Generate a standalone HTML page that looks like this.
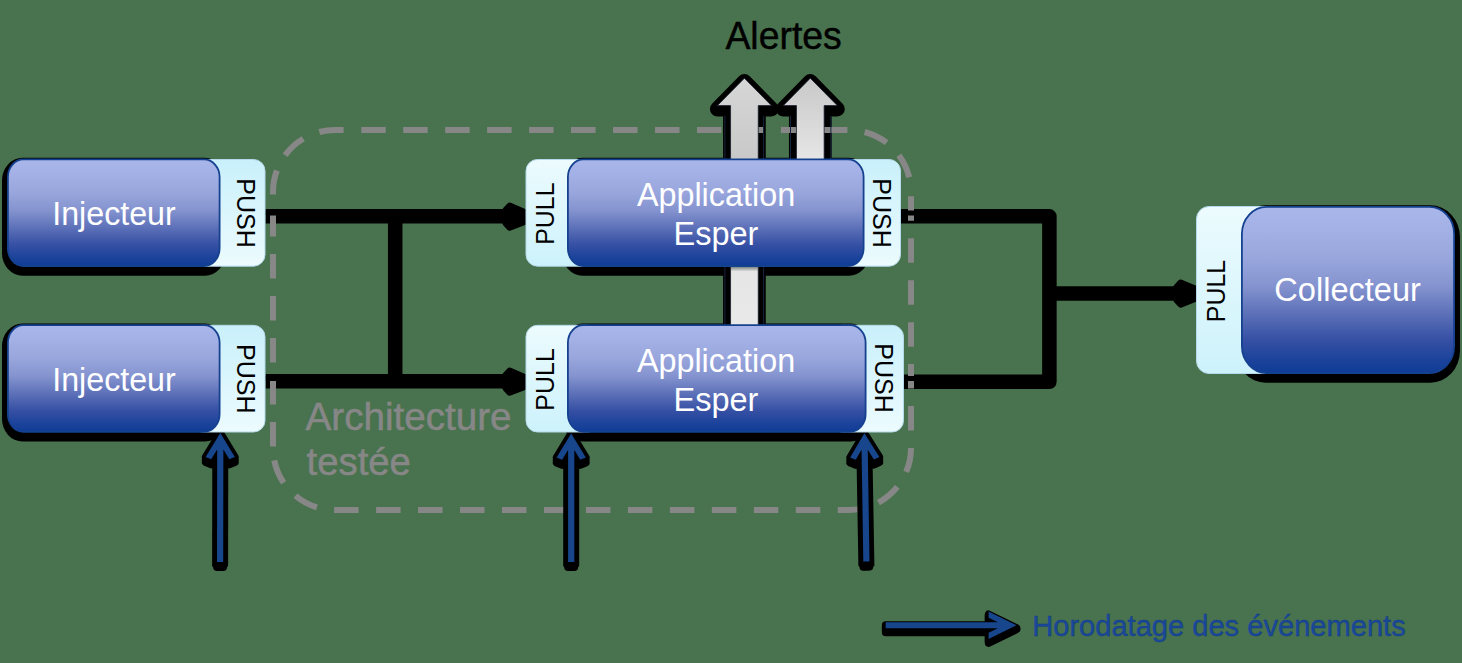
<!DOCTYPE html>
<html><head><meta charset="utf-8"><title>Architecture</title>
<style>
html,body{margin:0;padding:0;background:#49734e;}
body{width:1462px;height:663px;overflow:hidden;font-family:"Liberation Sans", sans-serif;}
svg{display:block}
</style></head>
<body>
<svg width="1462" height="663" viewBox="0 0 1462 663">
<defs>
<linearGradient id="gBlue" x1="0" y1="0" x2="0" y2="1">
<stop offset="0" stop-color="#a9b6ea"/>
<stop offset="0.13" stop-color="#a4b1e6"/>
<stop offset="0.31" stop-color="#99a6dd"/>
<stop offset="0.48" stop-color="#8493cf"/>
<stop offset="0.645" stop-color="#5c70b8"/>
<stop offset="0.80" stop-color="#3650a4"/>
<stop offset="0.92" stop-color="#1c439b"/>
<stop offset="1" stop-color="#0f3c97"/>
</linearGradient>
<linearGradient id="lgA" x1="0" y1="0" x2="0" y2="1">
<stop offset="0" stop-color="#c9f0fb"/>
<stop offset="1" stop-color="#ecfbfe"/>
</linearGradient>
<linearGradient id="lgB" x1="0" y1="0" x2="0" y2="1">
<stop offset="0" stop-color="#ecfbfe"/>
<stop offset="1" stop-color="#cdf2fb"/>
</linearGradient>
<linearGradient id="lgE" x1="0" y1="0" x2="1" y2="0">
<stop offset="0" stop-color="#d8f5fc"/>
<stop offset="1" stop-color="#d8f5fc"/>
</linearGradient>
<linearGradient id="gGray1" x1="0" y1="0" x2="0" y2="1">
<stop offset="0" stop-color="#d6d6d6"/>
<stop offset="0.32" stop-color="#c9c9c9"/>
<stop offset="0.76" stop-color="#e5e5e5"/>
<stop offset="1" stop-color="#e9e9e9"/>
</linearGradient>
<linearGradient id="gGray2" x1="0" y1="0" x2="0" y2="1">
<stop offset="0" stop-color="#c8c8c8"/>
<stop offset="1" stop-color="#e6e6e6"/>
</linearGradient>
</defs>
<rect x="0" y="0" width="1462" height="663" fill="#49734e"/>
<g id="shadows" fill="#000" stroke="#000">
<rect x="2.00" y="157.80" width="223.50" height="117.90" rx="20.50" ry="22.50" stroke="none"/>
<rect x="2.00" y="323.60" width="223.50" height="117.90" rx="20.50" ry="22.50" stroke="none"/>
<rect x="562.00" y="157.80" width="307.50" height="117.90" rx="20.50" ry="22.50" stroke="none"/>
<rect x="562.00" y="323.60" width="309.50" height="117.90" rx="20.50" ry="22.50" stroke="none"/>
<rect x="1236.00" y="205.30" width="224.00" height="177.40" rx="29.50" ry="32.00" stroke="none"/>
<polygon points="744.40,81.50 771.40,108.90 758.25,108.90 758.25,329.30 730.55,329.30 730.55,108.90 717.40,108.90" stroke-width="15" stroke-linejoin="round"/>
<polygon points="810.30,81.50 837.30,108.90 824.15,108.90 824.15,163.30 796.45,163.30 796.45,108.90 783.30,108.90" stroke-width="15" stroke-linejoin="round"/>
<g fill="none" stroke-width="14.5" stroke-linejoin="round" stroke-linecap="butt">
<path d="M265.5,216.3 H505"/>
<path d="M265.5,381.3 H505"/>
<path d="M395.2,216.3 V381.3"/>
<path d="M901,216.3 H1049.4 V381.8 H904"/>
<path d="M1049.4,293.6 H1176"/>
</g>
</g>
<g fill="none" stroke="#878787" stroke-width="6" stroke-dasharray="24.5 17.47">
<path d="M352,130.0 H335.0 A62,62 0 0 0 273.0,192.0 V448.0" stroke-dashoffset="-8.4"/>
<path d="M273.0,448.0 A62,62 0 0 0 335.0,510.0 H849.0 A62,62 0 0 0 911.0,448.0 V192.0" stroke-dashoffset="-12.4"/>
<path d="M911.0,192.0 A62,62 0 0 0 849.0,130.0 H352" stroke-dashoffset="-14.9"/>
</g>
<polygon points="744.40,78.20 771.40,105.60 758.25,105.60 758.25,326.00 730.55,326.00 730.55,105.60 717.40,105.60" fill="url(#gGray1)" stroke="#1a2030" stroke-width="0.8" stroke-linejoin="miter"/>
<polygon points="810.30,78.20 837.30,105.60 824.15,105.60 824.15,160.00 796.45,160.00 796.45,105.60 783.30,105.60" fill="url(#gGray2)" stroke="#1a2030" stroke-width="0.8" stroke-linejoin="miter"/>
<g stroke="#16233f" stroke-width="1" fill="none">
<path d="M724.9,116 V324 M763.6,116 V324 M790.5,116 V159 M830.9,116 V159"/>
</g>
<linearGradient id="gSh" x1="0" y1="0" x2="0" y2="1"><stop offset="0" stop-color="#5a6a66" stop-opacity="0.75"/><stop offset="1" stop-color="#5a6a66" stop-opacity="0"/></linearGradient>
<rect x="731" y="267" width="27" height="4.5" fill="url(#gSh)"/>
<g fill="none" stroke="#000" stroke-width="5" stroke-linejoin="round">
<path d="M265.5,213 H505"/>
<path d="M265.5,378.5 H505"/>
<path d="M395.1,213 V378.5"/>
<path d="M901,213 H1049.4 V378.5 H904"/>
<path d="M1049.4,290 H1176"/>
</g>
<polygon points="505.60,210.20 509.60,205.80 524.00,211.90 524.00,221.90 509.60,227.50 505.60,223.10" fill="#000" stroke="#000" stroke-width="6.4" stroke-linejoin="round"/>
<polygon points="505.60,375.20 509.60,370.80 524.00,376.90 524.00,386.90 509.60,392.50 505.60,388.10" fill="#000" stroke="#000" stroke-width="6.4" stroke-linejoin="round"/>
<polygon points="1176.60,287.10 1180.60,282.70 1195.00,288.80 1195.00,298.80 1180.60,304.40 1176.60,300.00" fill="#000" stroke="#000" stroke-width="6.4" stroke-linejoin="round"/>
<polygon points="220.30,433.00 205.66,456.98 211.17,459.29 217.17,449.44 217.00,562.00 223.20,562.00 223.37,449.45 229.35,459.31 234.86,457.02" fill="#000" stroke="#000" stroke-width="7.6" stroke-linejoin="round"/>
<polygon points="220.30,435.60 205.66,459.58 211.17,461.89 217.17,452.04 217.00,564.60 223.20,564.60 223.37,452.05 229.35,461.91 234.86,459.62" fill="#000" stroke="#000" stroke-width="7.6" stroke-linejoin="round"/>
<polygon points="220.30,438.30 205.66,462.28 211.17,464.59 217.17,454.74 217.00,567.30 223.20,567.30 223.37,454.75 229.35,464.61 234.86,462.32" fill="#000" stroke="#000" stroke-width="7.6" stroke-linejoin="round"/>
<polygon points="212.28,463.0 212.10,566.0 216.60,570.7 223.60,570.7 228.10,566.0 228.28,463.0" fill="#000"/>
<polygon points="220.30,433.00 205.66,456.98 211.17,459.29 217.17,449.44 217.00,562.00 223.20,562.00 223.37,449.45 229.35,459.31 234.86,457.02" fill="#17468d"/>
<polygon points="571.20,433.50 556.60,457.50 562.11,459.80 568.10,449.95 568.10,562.00 574.30,562.00 574.30,449.95 580.29,459.80 585.80,457.50" fill="#000" stroke="#000" stroke-width="7.6" stroke-linejoin="round"/>
<polygon points="571.20,436.10 556.60,460.10 562.11,462.40 568.10,452.55 568.10,564.60 574.30,564.60 574.30,452.55 580.29,462.40 585.80,460.10" fill="#000" stroke="#000" stroke-width="7.6" stroke-linejoin="round"/>
<polygon points="571.20,438.80 556.60,462.80 562.11,465.10 568.10,455.25 568.10,567.30 574.30,567.30 574.30,455.25 580.29,465.10 585.80,462.80" fill="#000" stroke="#000" stroke-width="7.6" stroke-linejoin="round"/>
<polygon points="563.20,463.5 563.20,566.0 567.70,570.7 574.70,570.7 579.20,566.0 579.20,463.5" fill="#000"/>
<polygon points="571.20,433.50 556.60,457.50 562.11,459.80 568.10,449.95 568.10,562.00 574.30,562.00 574.30,449.95 580.29,459.80 585.80,457.50" fill="#17468d"/>
<polygon points="864.40,433.30 850.18,457.52 855.72,459.74 861.56,449.79 863.30,561.55 869.50,561.45 867.76,449.70 873.90,459.45 879.37,457.07" fill="#000" stroke="#000" stroke-width="7.6" stroke-linejoin="round"/>
<polygon points="864.40,435.90 850.18,460.12 855.72,462.34 861.56,452.39 863.30,564.15 869.50,564.05 867.76,452.30 873.90,462.05 879.37,459.67" fill="#000" stroke="#000" stroke-width="7.6" stroke-linejoin="round"/>
<polygon points="864.40,438.60 850.18,462.82 855.72,465.04 861.56,455.09 863.30,566.85 869.50,566.75 867.76,455.00 873.90,464.75 879.37,462.37" fill="#000" stroke="#000" stroke-width="7.6" stroke-linejoin="round"/>
<polygon points="856.60,463.3 858.40,565.5 862.90,570.2 869.90,570.2 874.40,565.5 872.60,463.3" fill="#000"/>
<polygon points="864.40,433.30 850.18,457.52 855.72,459.74 861.56,449.79 863.30,561.55 869.50,561.45 867.76,449.70 873.90,459.45 879.37,457.07" fill="#17468d"/>
<polygon points="1016.50,628.00 988.60,614.30 988.60,620.43 997.81,624.95 885.70,624.95 885.70,631.05 997.81,631.05 988.60,635.57 988.60,641.70" fill="#000" stroke="#000" stroke-width="7.6" stroke-linejoin="round"/>
<polygon points="1016.50,629.40 988.60,615.70 988.60,621.83 997.81,626.35 885.70,626.35 885.70,632.45 997.81,632.45 988.60,636.97 988.60,643.10" fill="#000" stroke="#000" stroke-width="7.6" stroke-linejoin="round"/>
<polygon points="1016.50,625.20 988.60,611.50 988.60,617.63 997.81,622.15 885.70,622.15 885.70,628.25 997.81,628.25 988.60,632.77 988.60,638.90" fill="#17468d"/>
<rect x="190.50" y="159.50" width="74.50" height="106.70" rx="11.50" ry="11.50" fill="url(#lgA)" stroke="#b4d9ea" stroke-width="1"/>
<rect x="190.50" y="325.30" width="74.50" height="106.70" rx="11.50" ry="11.50" fill="url(#lgA)" stroke="#b4d9ea" stroke-width="1"/>
<rect x="526.00" y="159.50" width="73.50" height="106.70" rx="11.50" ry="11.50" fill="url(#lgB)" stroke="#b4d9ea" stroke-width="1"/>
<rect x="526.00" y="325.30" width="73.50" height="106.70" rx="11.50" ry="11.50" fill="url(#lgB)" stroke="#b4d9ea" stroke-width="1"/>
<rect x="830.50" y="159.50" width="70.00" height="106.70" rx="11.50" ry="11.50" fill="url(#lgA)" stroke="#b4d9ea" stroke-width="1"/>
<rect x="830.50" y="325.30" width="73.00" height="106.70" rx="11.50" ry="11.50" fill="url(#lgA)" stroke="#b4d9ea" stroke-width="1"/>
<rect x="1196.50" y="206.50" width="93.00" height="167.00" rx="12.50" ry="12.50" fill="url(#lgB)" stroke="#b4d9ea" stroke-width="1"/>
<rect x="7.90" y="159.40" width="211.70" height="106.70" rx="15.60" ry="17.60" fill="url(#gBlue)" stroke="#15418f" stroke-width="1.8"/>
<rect x="7.90" y="325.20" width="211.70" height="106.70" rx="15.60" ry="17.60" fill="url(#gBlue)" stroke="#15418f" stroke-width="1.8"/>
<rect x="567.90" y="159.40" width="295.70" height="106.70" rx="15.60" ry="17.60" fill="url(#gBlue)" stroke="#15418f" stroke-width="1.8"/>
<rect x="567.90" y="325.20" width="297.70" height="106.70" rx="15.60" ry="17.60" fill="url(#gBlue)" stroke="#15418f" stroke-width="1.8"/>
<rect x="1241.90" y="206.90" width="212.20" height="166.20" rx="24.60" ry="27.10" fill="url(#gBlue)" stroke="#15418f" stroke-width="1.8"/>
<g font-family='"Liberation Sans", sans-serif'>
<text transform="translate(783.6,48.8) scale(1,1.04)" x="0" y="0" font-size="37.4" fill="#000" text-anchor="middle" stroke="#000" stroke-width="0.45">Alertes</text>
<text transform="translate(114.0,224.8) scale(1,1.04)" x="0" y="0" font-size="32.2" fill="#fff" text-anchor="middle" >Injecteur</text>
<text transform="translate(114.0,390.6) scale(1,1.04)" x="0" y="0" font-size="32.2" fill="#fff" text-anchor="middle" >Injecteur</text>
<text transform="translate(716.0,205.9) scale(1,1.04)" x="0" y="0" font-size="32.35" fill="#fff" text-anchor="middle" >Application</text>
<text transform="translate(716.0,245.1) scale(1,1.04)" x="0" y="0" font-size="32.5" fill="#fff" text-anchor="middle" >Esper</text>
<text transform="translate(716.0,371.70000000000005) scale(1,1.04)" x="0" y="0" font-size="32.35" fill="#fff" text-anchor="middle" >Application</text>
<text transform="translate(716.0,410.9) scale(1,1.04)" x="0" y="0" font-size="32.5" fill="#fff" text-anchor="middle" >Esper</text>
<text transform="translate(1347.6,301.3) scale(1,1.04)" x="0" y="0" font-size="32.6" fill="#fff" text-anchor="middle" >Collecteur</text>
<text transform="translate(305.6,430.0) scale(1,1.02)" x="0" y="0" font-size="38.6" fill="#878787" text-anchor="start" stroke="#878787" stroke-width="0.55">Architecture</text>
<text transform="translate(306.6,475.3) scale(1,1.02)" x="0" y="0" font-size="38.3" fill="#878787" text-anchor="start" stroke="#878787" stroke-width="0.55">testée</text>
<text transform="translate(1032.2,635.8) scale(1,1.02)" x="0" y="0" font-size="29.1" fill="#1a499b" text-anchor="start" stroke="#123a80" stroke-width="0.4">Horodatage des événements</text>
<text transform="translate(246.0,213.0) rotate(90)" x="0" y="8.95" font-size="25" fill="#000" text-anchor="middle">PUSH</text>
<text transform="translate(246.0,378.8) rotate(90)" x="0" y="8.95" font-size="25" fill="#000" text-anchor="middle">PUSH</text>
<text transform="translate(545.5,213.6) rotate(-90)" x="0" y="8.95" font-size="25" fill="#000" text-anchor="middle">PULL</text>
<text transform="translate(545.5,379.4) rotate(-90)" x="0" y="8.95" font-size="25" fill="#000" text-anchor="middle">PULL</text>
<text transform="translate(882.0,213.0) rotate(90)" x="0" y="8.95" font-size="25" fill="#000" text-anchor="middle">PUSH</text>
<text transform="translate(884.0,378.0) rotate(90)" x="0" y="8.95" font-size="25" fill="#000" text-anchor="middle">PUSH</text>
<text transform="translate(1216.0,291.0) rotate(-90)" x="0" y="8.95" font-size="25" fill="#000" text-anchor="middle">PULL</text>
</g>
</svg>
</body></html>
